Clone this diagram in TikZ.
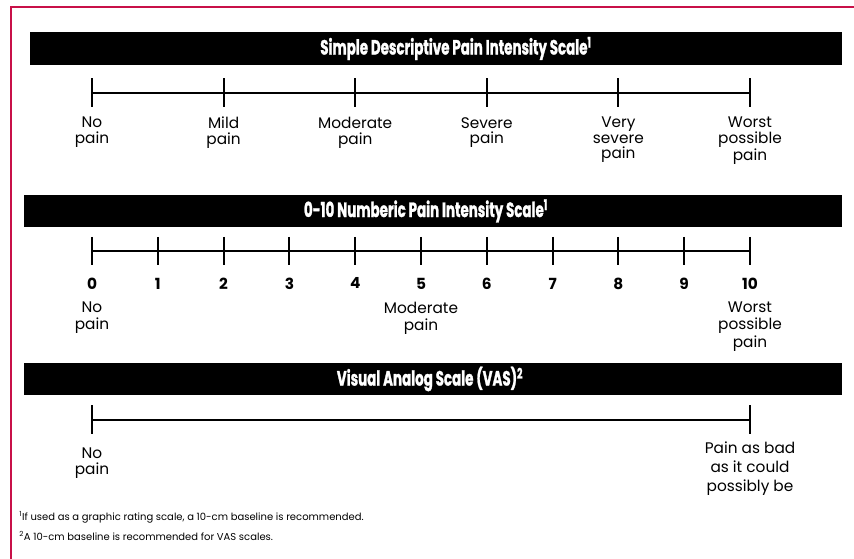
\documentclass[tikz,border=0pt]{standalone}
\usepackage{fontspec}
\setmainfont{Poppins}
\newfontfamily\headfont[FakeStretch=0.65,BoldFeatures={FakeBold=1.2}]{Poppins}
\usetikzlibrary{positioning}
\definecolor{crimson}{RGB}{200,16,72}
\tikzset{
	>=latex,
}

\begin{document}
\begin{tikzpicture}[x=0.75pt,y=-0.75pt,
		frame/.style={draw=crimson, line width=1.6pt},
		bar/.style={fill=black},
		head/.style={text=white, inner sep=0pt, font=\headfont\bfseries\fontsize{15.5}{17}\selectfont},
		axis/.style={line width=1.5pt},
		lbl/.style={anchor=north, align=center, inner sep=0pt, font=\fontsize{11.5}{#1}\selectfont},
		lbl/.default=11.6,
		num/.style={anchor=north, inner sep=0pt, font=\bfseries\fontsize{11.5}{13}\selectfont},
		note/.style={anchor=west, inner sep=0pt, font=\fontsize{7.5}{9}\selectfont},
	]
	\useasboundingbox (0,0) rectangle (854,559);
	\draw[frame] (11,559) -- (11,7) -- (854,7);

	% simple descriptive scale
	\fill[bar] (30,32) rectangle (842,65);
	\node(simple)[head] at (456,48.5) {Simple Descriptive Pain Intensity Scale\textsuperscript{1}};
	\foreach \i in {0,...,5}
		\coordinate (s\i) at (92+131.6*\i,93);
	\draw[axis] (s0) -- (s5);
	\foreach \i in {0,...,5}
		\draw[axis] (s\i) ++(0,-14.5) -- ++(0,29);
	\node(sno)[lbl,below=18pt of s0]{No\\pain};
	\node(smild)[lbl,below=18pt of s1]{Mild\\pain};
	\node(smod)[lbl,below=18pt of s2]{Moderate\\pain};
	\node(ssev)[lbl,below=18pt of s3]{Severe\\pain};
	\node(svery)[lbl,below=18pt of s4]{Very\\severe\\pain};
	\node(sworst)[lbl,below=18pt of s5]{Worst\\possible\\pain};

	% numeric scale
	\fill[bar] (24,195) rectangle (842,227);
	\node(numeric)[head] at (426,211) {0-10 Numberic Pain Intensity Scale\textsuperscript{1}};
	\foreach \i in {0,...,10}
		\coordinate (n\i) at (92+65.8*\i,251);
	\draw[axis] (n0) -- (n10);
	\foreach \i in {0,...,10} {
		\draw[axis] (n\i) ++(0,-14) -- ++(0,28);
		\node(d\i)[num,below=20pt of n\i]{\i};
	}
	\node(nno)[lbl=13,below=38pt of n0]{No\\pain};
	\node(nmod)[lbl=13,below=38pt of n5]{Moderate\\pain};
	\node(nworst)[lbl=13,below=38pt of n10]{Worst\\possible\\pain};

	% visual analog scale
	\fill[bar] (24,363) rectangle (842,395);
	\node(vas)[head] at (430,379) {Visual Analog Scale (VAS)\textsuperscript{2}};
	\coordinate (v0) at (92,420);
	\coordinate (v1) at (750,420);
	\draw[axis] (v0) -- (v1);
	\foreach \p in {v0,v1}
		\draw[axis] (\p) ++(0,-14.5) -- ++(0,29);
	\node(vno)[lbl,below=21pt of v0]{No\\pain};
	\node(vbad)[lbl=14,below=16.5pt of v1]{Pain as bad\\as it could\\possibly be};

	% notes
	\node(note1)[note] at (19,517) {\textsuperscript{1}If used as a graphic rating scale, a 10-cm baseline is recommended.};
	\node(note2)[note] at (19,536) {\textsuperscript{2}A 10-cm baseline is recommended for VAS scales.};
\end{tikzpicture}
\end{document}
